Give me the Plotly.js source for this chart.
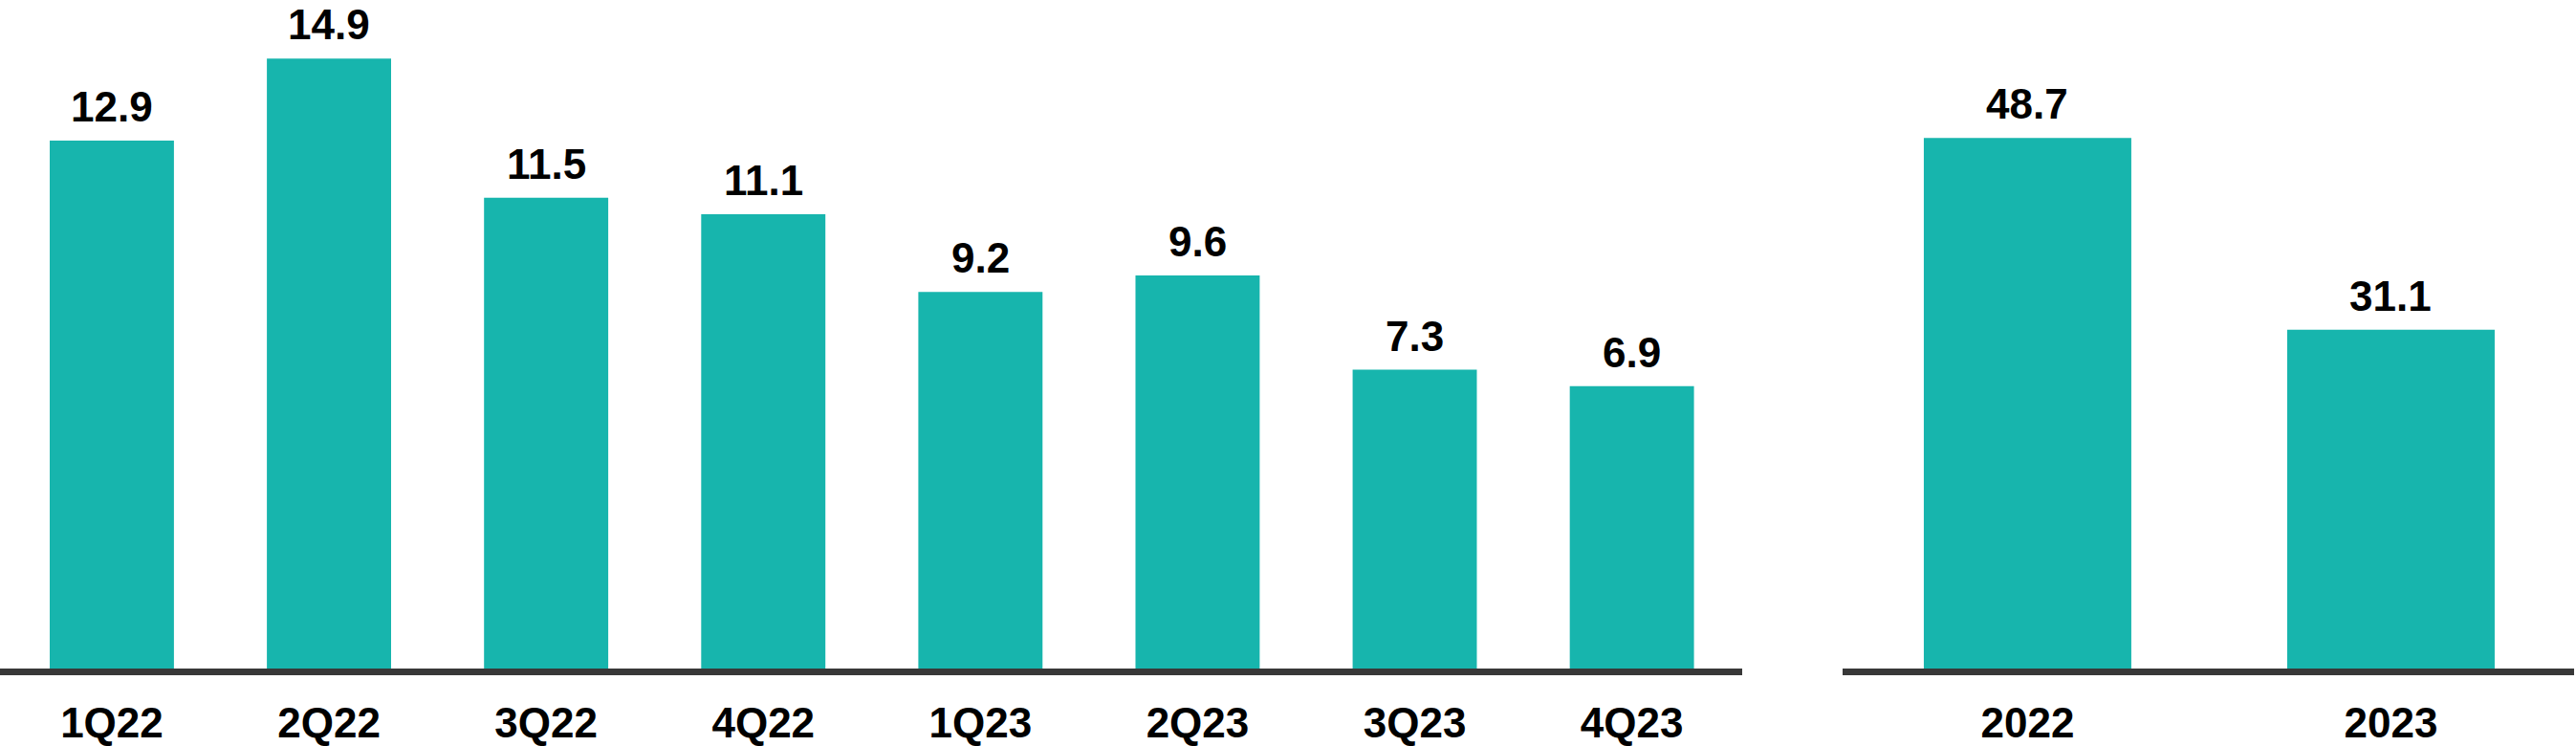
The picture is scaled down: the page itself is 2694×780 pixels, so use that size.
<!DOCTYPE html>
<html>
<head>
<meta charset="utf-8">
<script src="https://cdn.plot.ly/plotly-3.0.1.min.js"></script>
<style>html,body{margin:0;padding:0;background:#fff;}#chart{width:2694px;height:780px;}</style>
</head>
<body>
<div id="chart"></div>
<script>
const quarters = ["1Q22","2Q22","3Q22","4Q22","1Q23","2Q23","3Q23","4Q23"];
const quarterValues = [12.9, 14.9, 11.5, 11.1, 9.2, 9.6, 7.3, 6.9];
const years = ["2022","2023"];
const yearValues = [48.7, 31.1];

const teal = "#17B5AD";
const font = "Liberation Sans, Arial, sans-serif";

const traces = [
  {type:"bar", x:quarters, y:quarterValues, xaxis:"x", yaxis:"y",
   marker:{color:teal}, width:0.572, hoverinfo:"none"},
  {type:"bar", x:years, y:yearValues, xaxis:"x2", yaxis:"y2",
   marker:{color:teal}, width:0.571, hoverinfo:"none"}
];

const fmt = v => v.toFixed(1);
const labelFont = {family:font, size:44, color:"#000", weight:"bold"};
const annotations = [];
quarters.forEach((q,i)=>annotations.push({x:i, y:quarterValues[i], xref:"x", yref:"y",
  text:fmt(quarterValues[i]), showarrow:false, yanchor:"bottom", yshift:10, borderpad:0, font:labelFont}));
years.forEach((q,i)=>annotations.push({x:i, y:yearValues[i], xref:"x2", yref:"y2",
  text:fmt(yearValues[i]), showarrow:false, yanchor:"bottom", yshift:10, borderpad:0, font:labelFont}));

const H = 699 - 20;
const tickFont = {family:font, size:44, color:"#000", weight:"bold"};
const layout = {
  width:2694, height:780,
  margin:{l:0, r:0, t:20, b:81, pad:0},
  paper_bgcolor:"#fff", plot_bgcolor:"#fff",
  showlegend:false,
  xaxis:{domain:[0, 1822/2694], range:[-0.515, 7.508], type:"category",
    showline:true, linewidth:7, linecolor:"#383838", showgrid:false, zeroline:false,
    ticks:"", ticklabelstandoff:12, tickfont:tickFont},
  xaxis2:{domain:[1927/2694, 2692/2694], range:[-0.509, 1.504], type:"category",
    showline:true, linewidth:7, linecolor:"#383838", showgrid:false, zeroline:false,
    ticks:"", ticklabelstandoff:12, anchor:"y2", tickfont:tickFont},
  yaxis:{range:[0, H/42.8], visible:false, showgrid:false, zeroline:false},
  yaxis2:{range:[0, H/11.39], visible:false, showgrid:false, zeroline:false, anchor:"x2"},
  annotations:annotations
};

Plotly.newPlot("chart", traces, layout, {staticPlot:true, displayModeBar:false});
</script>
</body>
</html>
